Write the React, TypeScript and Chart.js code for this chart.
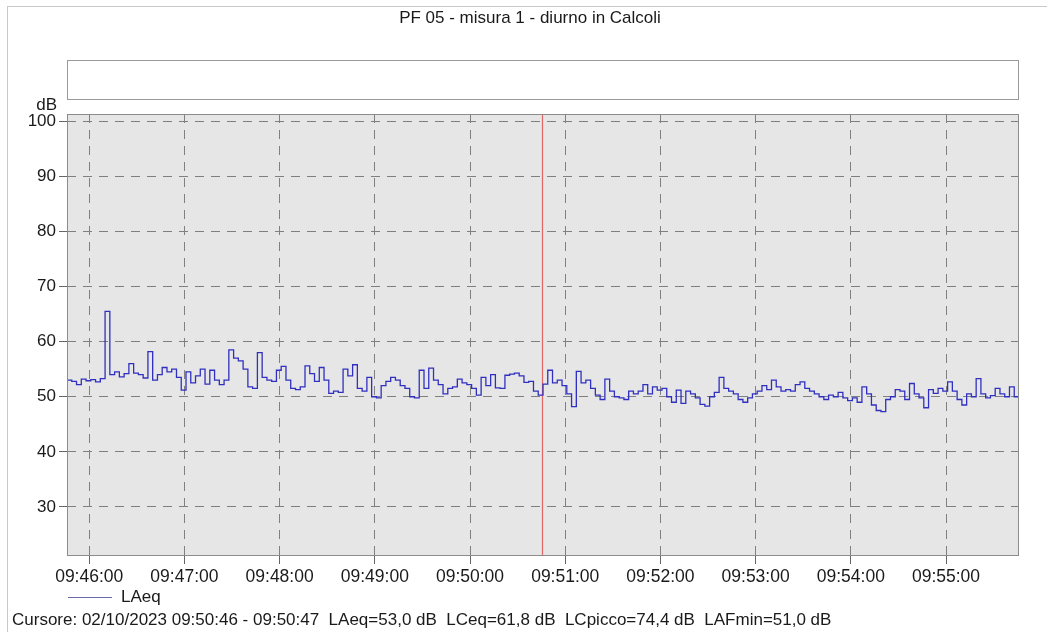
import React, { useEffect, useRef } from "react";
import { Chart, registerables } from "chart.js";

Chart.register(...registerables);

// ---------- data ----------
const TITLE = "PF 05 - misura 1 - diurno in Calcoli";
const Y_UNIT = "dB";
const SERIES_LABEL = "LAeq";
const START_TIME = "09:45:46";
const END_TIME = "09:55:46";
const STEP_SECONDS = 3;
const CURSOR_TIME = "09:50:46";
const FOOTER =
  "Cursore: 02/10/2023 09:50:46 - 09:50:47  LAeq=53,0 dB  LCeq=61,8 dB  LCpicco=74,4 dB  LAFmin=51,0 dB";

const Y_TICKS = [30, 40, 50, 60, 70, 80, 90, 100];
const X_TICK_LABELS = [
  "09:46:00", "09:47:00", "09:48:00", "09:49:00", "09:50:00",
  "09:51:00", "09:52:00", "09:53:00", "09:54:00", "09:55:00",
];

const LAEQ = [
  53.0, 52.8, 52.2, 53.2, 52.9, 53.1, 52.7, 53.3, 65.5, 54.0,
  54.5, 53.6, 54.2, 56.0, 54.3, 54.0, 53.4, 58.2, 53.0, 54.0,
  55.3, 54.5, 55.0, 53.5, 51.2, 54.5, 52.5, 53.8, 55.0, 52.3,
  54.8, 53.0, 52.2, 53.0, 58.5, 57.0, 56.5, 55.0, 51.8, 51.5,
  58.0, 53.5, 53.0, 52.8, 54.8, 55.5, 53.0, 51.5, 51.3, 51.8,
  55.6, 54.2, 52.8, 55.3, 53.0, 50.6, 51.0, 50.8, 55.0, 53.8,
  55.8, 51.5, 51.0, 53.5, 50.0, 49.8, 52.0, 52.8, 53.5, 53.0,
  52.0, 51.5, 50.0, 49.8, 54.8, 51.5, 55.2, 53.0, 52.2, 50.5,
  51.5, 51.8, 53.2, 52.5, 52.2, 51.5, 50.3, 53.5, 52.0, 54.0,
  51.6, 51.5, 53.9, 54.1, 54.3, 53.8, 52.6, 52.8, 51.0, 50.3,
  52.3, 54.8, 52.5, 53.0, 52.0, 50.5, 48.2, 54.6, 52.5, 53.0,
  51.5, 50.3, 49.5, 53.2, 51.0, 50.0, 49.8, 49.5, 51.0, 50.5,
  51.0, 52.2, 50.5, 51.8, 51.2, 51.5, 50.0, 49.0, 51.2, 48.8,
  51.0, 50.5, 49.8, 48.6, 48.3, 50.0, 50.8, 53.5, 51.5, 51.0,
  50.5, 49.5, 49.0, 49.8, 50.5, 51.0, 52.0, 51.3, 53.0, 51.8,
  51.0, 51.3, 51.0, 52.2, 52.7, 51.5, 51.0, 50.5, 50.0, 49.5,
  50.3, 50.0, 50.8, 49.8, 49.3, 49.8, 49.0, 51.8, 50.5, 48.5,
  47.5, 47.3, 49.5, 50.0, 51.3, 51.0, 49.5, 52.4, 50.5, 49.8,
  48.0, 51.3, 50.6, 51.5, 51.0, 52.7, 51.0, 49.5, 48.5, 50.5,
  50.0, 53.3, 50.5, 49.8, 50.2, 51.5, 50.5, 50.0, 51.8, 50.0,
  49.3,
];

const Y_MIN = 21.1;
const Y_MAX = 101.3;

// ---------- styles ----------
const FONT = "'Liberation Sans', Arial, Helvetica, sans-serif";
const TEXT_COLOR = "#1a1a1a";
const LINE_COLOR = "#3030c0";
const PLOT_BG = "#e6e6e6";
const GRID_COLOR = "#808080";
const FRAME_COLOR = "#8c8c8c";
const CURSOR_COLOR = "#e06666";

const toSec = (s: string) => {
  const [h, m, sec] = s.split(":").map(Number);
  return h * 3600 + m * 60 + sec;
};
const T0 = toSec(START_TIME);
const X_MAX = toSec(END_TIME) - T0;
const X_TICK_VALUES = X_TICK_LABELS.map((l) => toSec(l) - T0);
const CURSOR_X = toSec(CURSOR_TIME) - T0;
const POINTS = LAEQ.map((v, i) => ({ x: i * STEP_SECONDS, y: v }));

const plotDecor = {
  id: "plotDecor",
  beforeDraw(chart: any) {
    const { ctx, chartArea: a } = chart;
    ctx.save();
    ctx.fillStyle = PLOT_BG;
    ctx.fillRect(a.left, a.top, a.right - a.left, a.bottom - a.top);
    ctx.restore();
  },
  beforeDatasetsDraw(chart: any) {
    const { ctx, chartArea: a } = chart;
    const x = Math.round(chart.scales.x.getPixelForValue(CURSOR_X)) - 0.5;
    ctx.save();
    ctx.setLineDash([]);
    ctx.strokeStyle = CURSOR_COLOR;
    ctx.lineWidth = 1.2;
    ctx.beginPath();
    ctx.moveTo(x, a.top);
    ctx.lineTo(x, a.bottom);
    ctx.stroke();
    ctx.restore();
  },
  afterDraw(chart: any) {
    const { ctx, chartArea: a } = chart;
    ctx.save();
    ctx.setLineDash([]);
    ctx.strokeStyle = FRAME_COLOR;
    ctx.lineWidth = 1;
    ctx.strokeRect(a.left + 0.5, a.top + 0.5, a.right - a.left - 1, a.bottom - a.top - 1);
    ctx.restore();
  },
};

export default function App() {
  const ref = useRef<HTMLCanvasElement | null>(null);

  useEffect(() => {
    if (!ref.current) return;
    const chart = new Chart(ref.current, {
      type: "line",
      data: {
        datasets: [
          {
            label: SERIES_LABEL,
            data: POINTS,
            borderColor: LINE_COLOR,
            borderWidth: 1.3,
            pointRadius: 0,
            stepped: "before",
            fill: false,
          },
        ],
      },
      options: {
        responsive: false,
        animation: false,
        devicePixelRatio: 1,
        layout: { padding: { top: 114, right: 28, bottom: 46, left: 0 } },
        plugins: {
          legend: { display: false },
          title: { display: false },
          tooltip: { enabled: false },
        },
        scales: {
          x: {
            type: "linear",
            min: 0,
            max: X_MAX,
            afterBuildTicks: (s: any) => {
              s.ticks = X_TICK_VALUES.map((v) => ({ value: v }));
            },
            afterFit: (s: any) => {
              s.height = 30;
            },
            ticks: {
              autoSkip: false,
              maxRotation: 0,
              padding: 3,
              color: TEXT_COLOR,
              font: { family: FONT, size: 17.5 },
              callback: (_v: any, i: number) => X_TICK_LABELS[i],
            },
            grid: {
              color: GRID_COLOR,
              lineWidth: 1,
              tickLength: 8,
              tickColor: "#666",
            },
            border: { display: false, dash: [9, 7] },
          },
          y: {
            min: Y_MIN,
            max: Y_MAX,
            afterBuildTicks: (s: any) => {
              s.ticks = Y_TICKS.map((v) => ({ value: v }));
            },
            afterFit: (s: any) => {
              s.width = 67;
            },
            ticks: {
              padding: 3,
              color: TEXT_COLOR,
              font: { family: FONT, size: 17 },
              callback: (v: any) => String(v),
            },
            grid: {
              color: GRID_COLOR,
              lineWidth: 1,
              tickLength: 8,
              tickColor: "#666",
            },
            border: { display: false, dash: [9, 7] },
          },
        },
      },
      plugins: [plotDecor],
    } as any);
    return () => chart.destroy();
  }, []);

  const text: React.CSSProperties = {
    position: "absolute",
    fontFamily: FONT,
    color: TEXT_COLOR,
    whiteSpace: "pre",
    lineHeight: "18px",
  };

  return (
    <div
      style={{
        position: "fixed",
        left: 0,
        top: 0,
        width: 1047,
        height: 632,
        background: "#fff",
        overflow: "hidden",
      }}
    >
      <div
        style={{
          position: "absolute",
          left: 7,
          top: 6,
          width: 1060,
          height: 700,
          borderLeft: "1px solid #c8c8c8",
          borderTop: "1px solid #c8c8c8",
        }}
      />
      <canvas
        ref={ref}
        width={1047}
        height={632}
        style={{ position: "absolute", left: 0, top: 0, width: 1047, height: 632 }}
      />
      <div style={{ ...text, left: 530, top: 9, fontSize: 17, transform: "translateX(-50%)" }}>
        {TITLE}
      </div>
      <div
        style={{
          position: "absolute",
          left: 67,
          top: 60,
          width: 950,
          height: 38,
          border: "1px solid #9a9a9a",
          background: "#fff",
        }}
      />
      <div style={{ ...text, right: 1047 - 57, top: 96, fontSize: 17 }}>{Y_UNIT}</div>
      <div
        style={{
          position: "absolute",
          left: 68,
          top: 597,
          width: 44,
          height: 0,
          borderTop: "1px solid #6a6ab0",
        }}
      />
      <div style={{ ...text, left: 121, top: 588, fontSize: 17 }}>{SERIES_LABEL}</div>
      <div style={{ ...text, left: 12, top: 611, fontSize: 17 }}>{FOOTER}</div>
    </div>
  );
}
